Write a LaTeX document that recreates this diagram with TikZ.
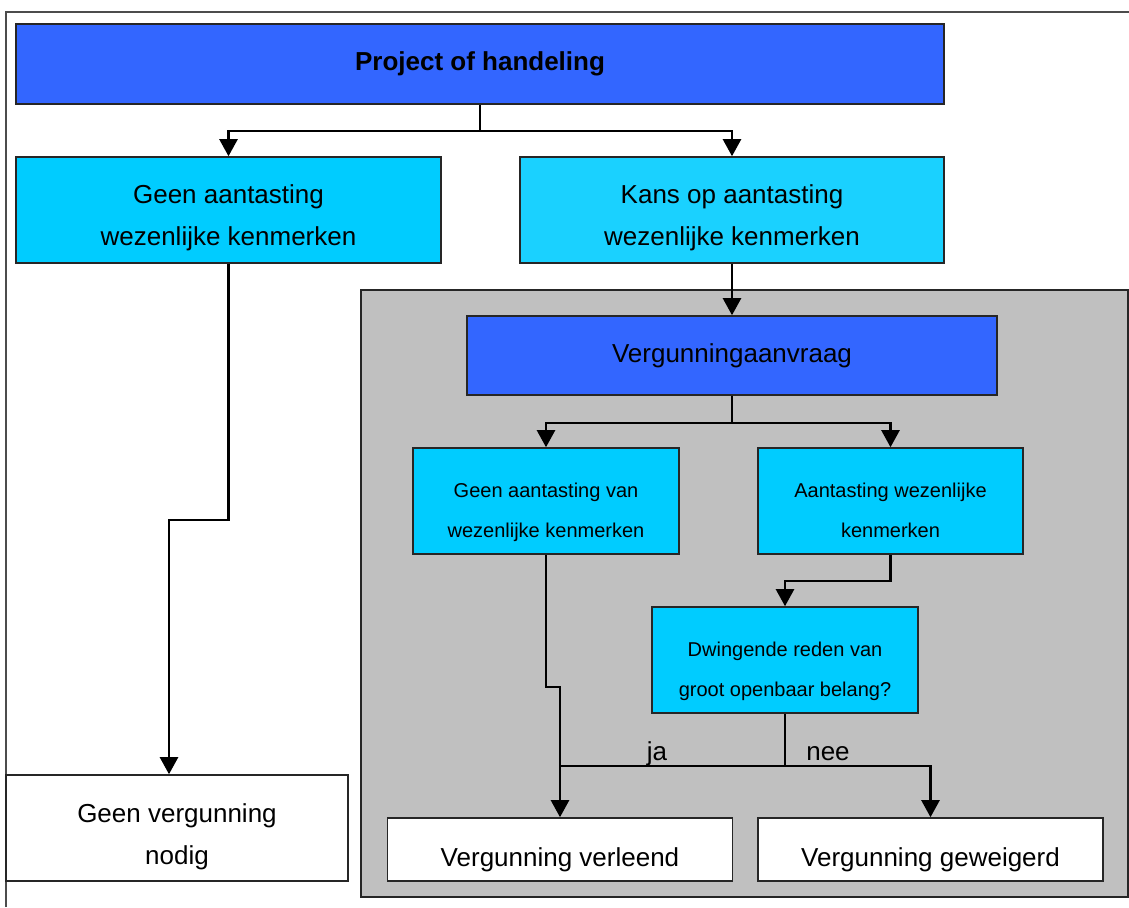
\documentclass[tikz,border=0pt]{standalone}
\usepackage{fontspec}
\setmainfont{Liberation Sans}
\usetikzlibrary{arrows.meta}
\definecolor{vgblue}{HTML}{3366FF}
\definecolor{vgcyan}{HTML}{00CCFF}
\definecolor{vglightcyan}{HTML}{1AD1FF}
\definecolor{vggray}{HTML}{C0C0C0}

\begin{document}
\begin{tikzpicture}[x=0.5pt, y=-0.5pt,
    box/.style={draw=black!85, line width=0.8pt, inner sep=0pt, align=center,
      font=\fontsize{13}{21}\selectfont},
    smallbox/.style={box, font=\fontsize{10}{20}\selectfont},
    lower/.style={execute at begin node={\rule{0pt}{#1}}},
    link/.style={line width=1.2pt, -{Triangle[width=9pt,length=8.5pt]}},
    plain/.style={line width=1.2pt}]
    \useasboundingbox (0,0) rectangle (1129,907);
    \draw[black!70, line width=0.6pt] (6,907) |- (1129,12);

    \node[box, fill=vggray, minimum width=383.5pt, minimum height=303.5pt] (panel) at (744.5,593.5) {};

    \node[box, fill=vgblue, minimum width=464pt, minimum height=40pt, font=\fontsize{13}{21}\selectfont\bfseries] (project) at (480,64) {Project of handeling};
    \node[box, lower=38.4pt, fill=vgcyan, minimum width=212.5pt, minimum height=53pt] (geen) at (228.5,210) {Geen aantasting\\ wezenlijke kenmerken};
    \node[box, lower=38.4pt, fill=vglightcyan, minimum width=212pt, minimum height=53pt] (kans) at (732,210) {Kans op aantasting\\ wezenlijke kenmerken};
    \node[box, lower=39.4pt, fill=white, minimum width=171pt, minimum height=53pt] (nodig) at (177,828) {Geen vergunning\\ nodig};

    \node[box, fill=vgblue, minimum width=265pt, minimum height=39.5pt] (aanvraag) at (732,355.5) {Vergunningaanvraag};
    \node[smallbox, lower=38.2pt, fill=vgcyan, minimum width=133pt, minimum height=53pt] (geenvan) at (546,501) {Geen aantasting van\\ wezenlijke kenmerken};
    \node[smallbox, lower=36.3pt, fill=vgcyan, minimum width=132.5pt, minimum height=53pt] (aantast) at (890.5,501) {Aantasting wezenlijke\\ kenmerken};
    \node[smallbox, lower=38.3pt, fill=vgcyan, minimum width=133pt, minimum height=53pt] (dwing) at (785,660) {Dwingende reden van\\ groot openbaar belang?};
    \node[box, lower=19.5pt, fill=white, minimum width=172.5pt, minimum height=31.5pt] (verleend) at (560,849.5) {Vergunning verleend};
    \node[box, lower=19.5pt, fill=white, minimum width=172.5pt, minimum height=31.5pt] (geweigerd) at (930.5,849.5) {Vergunning geweigerd};

    \node[anchor=base, font=\fontsize{13}{16}\selectfont] (ja) at (657,760) {ja};
    \node[anchor=base, font=\fontsize{13}{16}\selectfont] (nee) at (828,760) {nee};

    \coordinate (jogL) at (169,520);
    \coordinate (jogM) at (560,687);
    \coordinate (split) at (785,766);

    \draw[link] (project.south) -- ++(0,26) -| (geen.north);
    \draw[link] (project.south) -- ++(0,26) -| (kans.north);
    \draw[link] (kans.south) -- (aanvraag.north);
    \draw[link] (geen.south) |- (jogL) -- (jogL |- nodig.north);
    \draw[link] (aanvraag.south) -- ++(0,27) -| (geenvan.north);
    \draw[link] (aanvraag.south) -- ++(0,27) -| (aantast.north);
    \draw[link] (aantast.south) -- ++(0,26) -| (dwing.north);
    \draw[link] (geenvan.south) |- (jogM) -- (verleend.north);
    \draw[plain] (dwing.south) -- (split) -- (jogM |- split);
    \draw[link] (split) -| (geweigerd.north);
  \end{tikzpicture}
\end{document}
